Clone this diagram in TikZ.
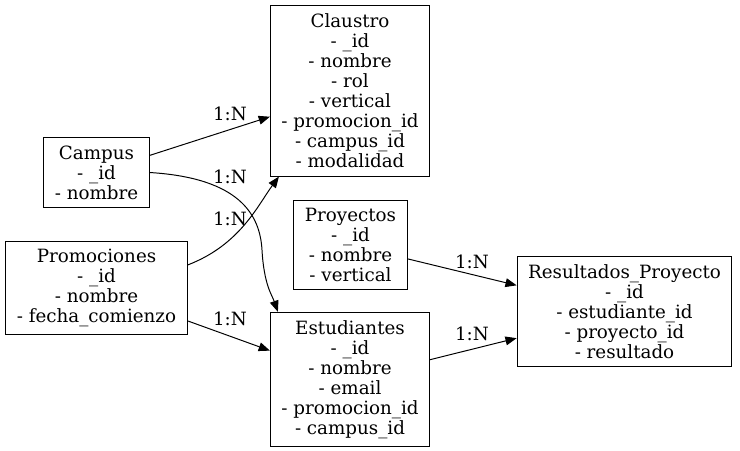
\documentclass[tikz,border=0pt]{standalone}
\usepackage{fontspec}
\setmainfont{DejaVu Serif}
\usetikzlibrary{arrows.meta,positioning}

\begin{document}
\begin{tikzpicture}[
  x=0.25mm, y=-0.25mm,
  entity/.style={rectangle, draw, align=center, inner xsep=7.8pt, inner ysep=5.8pt,
    font=\fontsize{13}{14.2}\selectfont},
  card/.style={font=\fontsize{13}{14}\selectfont, inner sep=1pt},
  >={Triangle[length=2.8mm,width=2.2mm]}, line width=0.7pt
]
\useasboundingbox (0,0) rectangle (740,451);

% Tables
\node[entity] (claustro) at (350,91) {Claustro\\- \_id\\- nombre\\- rol\\- vertical\\- promocion\_id\\- campus\_id\\- modalidad};
\node[entity] (campus) at (96.5,172.5) {Campus\\- \_id\\- nombre};
\node[entity] (promociones) at (96.5,288) {Promociones\\- \_id\\- nombre\\- fecha\_comienzo};
\node[entity] (proyectos) at (350.5,245) {Proyectos\\- \_id\\- nombre\\- vertical};
\node[entity] (estudiantes) at (350,379.5) {Estudiantes\\- \_id\\- nombre\\- email\\- promocion\_id\\- campus\_id};
\node[entity] (resultados) at (624.5,311.5) {Resultados\_Proyecto\\- \_id\\- estudiante\_id\\- proyecto\_id\\- resultado};

% Relations
\draw[->] (campus) -- (claustro);
\node[card] (c1) at (230,114) {1:N};

\coordinate (campusOut) at (campus.east);
\coordinate (estIn) at ([xshift=2mm]estudiantes.north west);
\draw[->] (campusOut) .. controls (240,178) and (260,215) .. (262,250)
  .. controls (264,285) and (272,295) .. (estIn);
\node[card] (c2) at (230,177) {1:N};

\coordinate (promOut) at ([yshift=5.75mm]promociones.east);
\coordinate (claIn) at ([xshift=2.25mm]claustro.south west);
\draw[->] (promOut) .. controls (240,245) and (258,205) .. (claIn);
\node[card] (c3) at (230,219) {1:N};

\draw[->] (promociones) -- (estudiantes);
\node[card] (c4) at (230,319) {1:N};

\draw[->] (proyectos) -- (resultados);
\node[card] (c5) at (472,262) {1:N};

\draw[->] (estudiantes) -- (resultados);
\node[card] (c6) at (472,334) {1:N};

\end{tikzpicture}
\end{document}
